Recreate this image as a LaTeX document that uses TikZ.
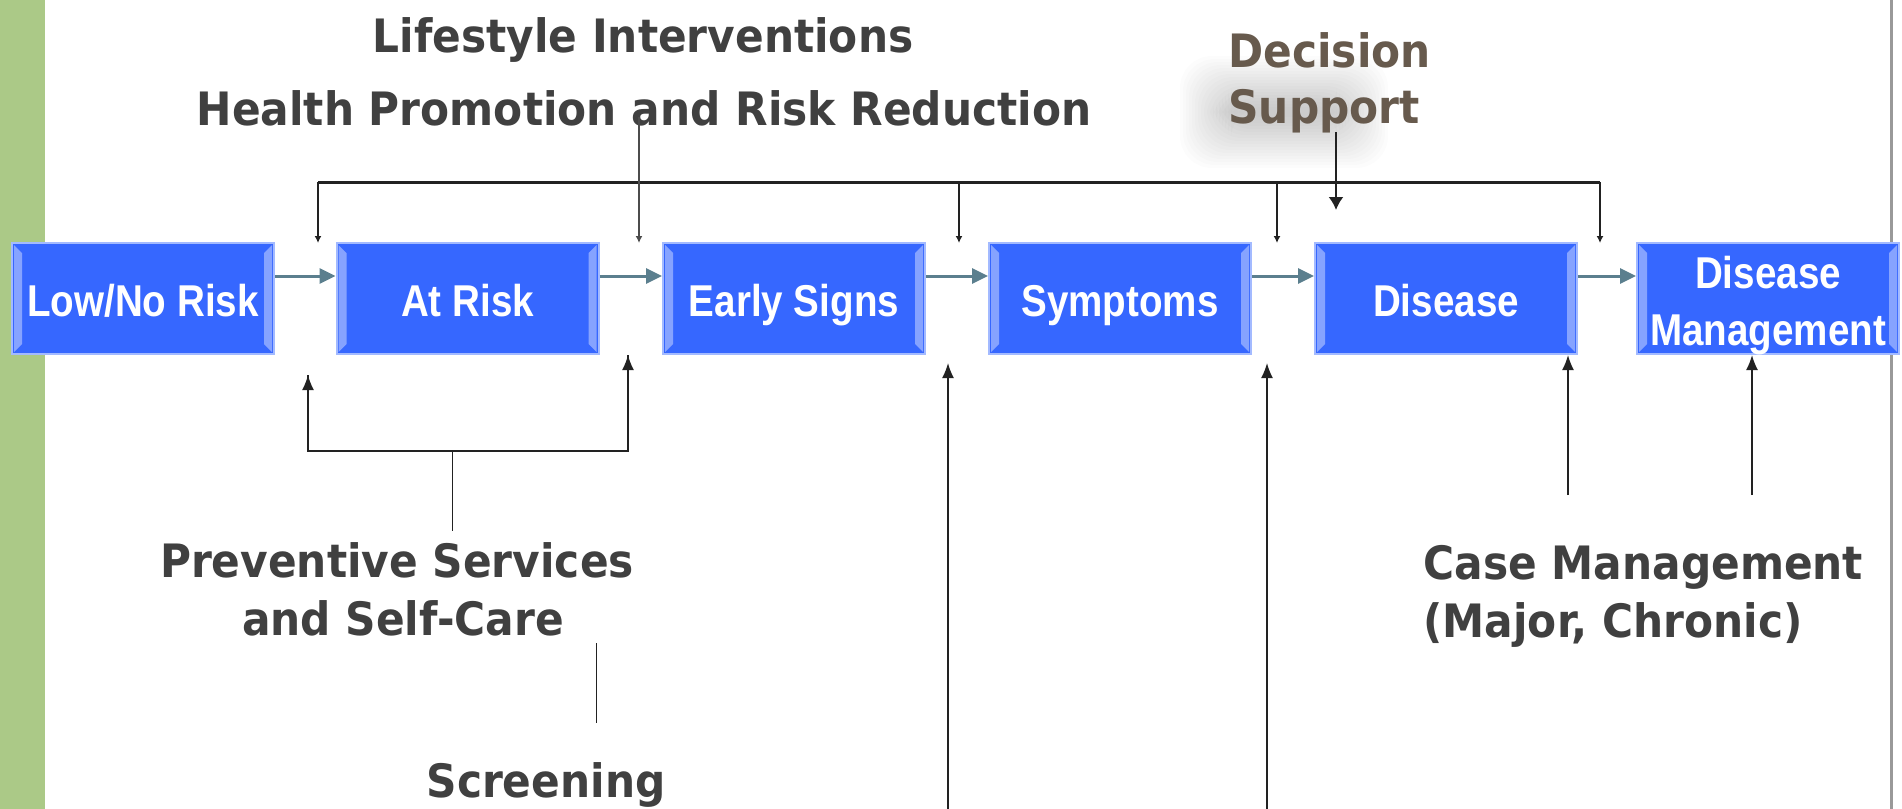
\documentclass[tikz,border=0pt]{standalone}
\usepackage{fontspec}
\usetikzlibrary{arrows.meta}
\newfontfamily\boxfont[FakeStretch=0.865]{Liberation Sans Bold}
\newfontfamily\tagfont[FakeStretch=0.92]{DejaVu Sans Bold}
\definecolor{boxblue}{HTML}{3667FF}
\definecolor{boxedge}{HTML}{A3BAFF}
\definecolor{bevel}{HTML}{86A3FF}
\definecolor{flowgray}{HTML}{5B7F8E}
\definecolor{tagtext}{HTML}{404040}
\definecolor{decision}{HTML}{675A4D}
\definecolor{sidebar}{HTML}{ABC987}
\definecolor{linkdark}{HTML}{222222}
\tikzset{
  stage/.style={draw=boxedge, line width=1pt, fill=boxblue, text=white,
    minimum width=131pt, minimum height=55.5pt, inner sep=0pt, align=center,
    text height=17.5pt, text depth=0pt,
    font=\boxfont\fontsize{22.3}{28.5}\selectfont,
    path picture={
      \fill[bevel] ([shift={(1pt,-1pt)}]path picture bounding box.north west) -- ++(4pt,-4pt)
        -- ([shift={(5pt,5pt)}]path picture bounding box.south west) -- ++(-4pt,-4pt) -- cycle;
      \fill[bevel] ([shift={(-1pt,-1pt)}]path picture bounding box.north east) -- ++(-4pt,-4pt)
        -- ([shift={(-5pt,5pt)}]path picture bounding box.south east) -- ++(4pt,-4pt) -- cycle;
    }},
  tag/.style={text=tagtext, inner sep=0pt, font=\tagfont\fontsize{23}{27}\selectfont},
  flow/.style={draw=flowgray, line width=1.5pt, -{Triangle[length=8pt,width=7.5pt]}},
  bar/.style={draw=linkdark, line width=1.5pt},
  drop/.style={draw=linkdark, line width=1pt, -{Latex[length=3.5pt,width=3.5pt]}},
  feed/.style={draw=linkdark, line width=0.8pt, -{Latex[length=7.5pt,width=6pt]}},
  stem/.style={draw=linkdark, line width=0.5pt}
}
\begin{document}
\begin{tikzpicture}[x=0.5pt,y=-0.5pt]
\useasboundingbox (0,0) rectangle (1902,809);
% side bar and frame line
\fill[sidebar] (0,0) rectangle (45,809);
\fill[black!40] (1890,0) rectangle (1893,809);

% soft shade behind the decision label
\foreach \k in {0,...,17}
  \fill[black, opacity=0.012, rounded corners=16pt] (1180+3*\k,56+3*\k) rectangle (1388-3*\k,168-3*\k);

% labels above
\node[tag, anchor=base] (life) at (643,52) {Lifestyle Interventions};
\node[tag, anchor=base] (health) at (644,125) {Health Promotion and Risk Reduction};
\node[tag, text=decision, anchor=base west] (dec1) at (1228,67) {Decision};
\node[tag, text=decision, anchor=base west] (dec2) at (1228,123) {Support};

% labels below
\node[tag, anchor=base] (prev1) at (397,577) {Preventive Services};
\node[tag, anchor=base] (prev2) at (403,635) {and Self-Care};
\node[tag, anchor=base] (scr) at (546,797) {Screening};
\node[tag, anchor=base west] (case1) at (1423,579) {Case Management};
\node[tag, anchor=base west] (case2) at (1423,637) {(Major, Chronic)};

% stages
\node[stage] (low) at (143,298.5) {Low/No Risk};
\node[stage] (atrisk) at (467.5,298.5) {At Risk};
\node[stage] (early) at (794,298.5) {Early Signs};
\node[stage] (sympt) at (1120,298.5) {Symptoms};
\node[stage] (dis) at (1446,298.5) {Disease};
\node[stage, text height=46.5pt] (dism) at (1768,298.5) {Disease\\Management};

\foreach \a/\b in {low/atrisk,atrisk/early,early/sympt,sympt/dis,dis/dism}
  \draw[flow] ([yshift=11.25pt]\a.east) -- ([yshift=11.25pt]\b.west);

% connector points
\foreach \n/\x/\y in {b1/318/182,b2/959/182,b3/1277/182,b4/1600/182,
    d1/318/243,d2/959/243,d3/1277/243,d4/1600/243,
    ls/639/117,le/639/243,ds/1336/132,de/1336/210,
    p1/308/451,p2/628/451,pc/452/451,ps/452/531,t1/308/375,t2/628/355,
    s1/596/643,s2/596/723,
    u1/948/809,v1/948/363,u2/1267/809,v2/1267/363,
    u3/1568/495,v3/1568/355,u4/1752/495,v4/1752/355}
  \coordinate (\n) at (\x,\y);

% interventions from above
\draw[bar] (b1) -- (b4);
\foreach \d in {1,...,4}
  \draw[drop] (b\d) -- (d\d);
\draw[drop, draw=black!70] (ls) -- (le);
\draw[feed, line width=1pt, -{Latex[length=6.5pt,width=7.5pt]}] (ds) -- (de);

% services from below
\draw[line width=1pt, draw=linkdark] (t1) |- (p2) -- (t2);
\draw[feed] (p1) -- (t1);
\draw[feed] (p2) -- (t2);
\draw[stem] (pc) -- (ps);
\draw[stem] (s1) -- (s2);
\foreach \i in {1,...,4}
  \draw[feed] (u\i) -- (v\i);
\end{tikzpicture}
\end{document}
